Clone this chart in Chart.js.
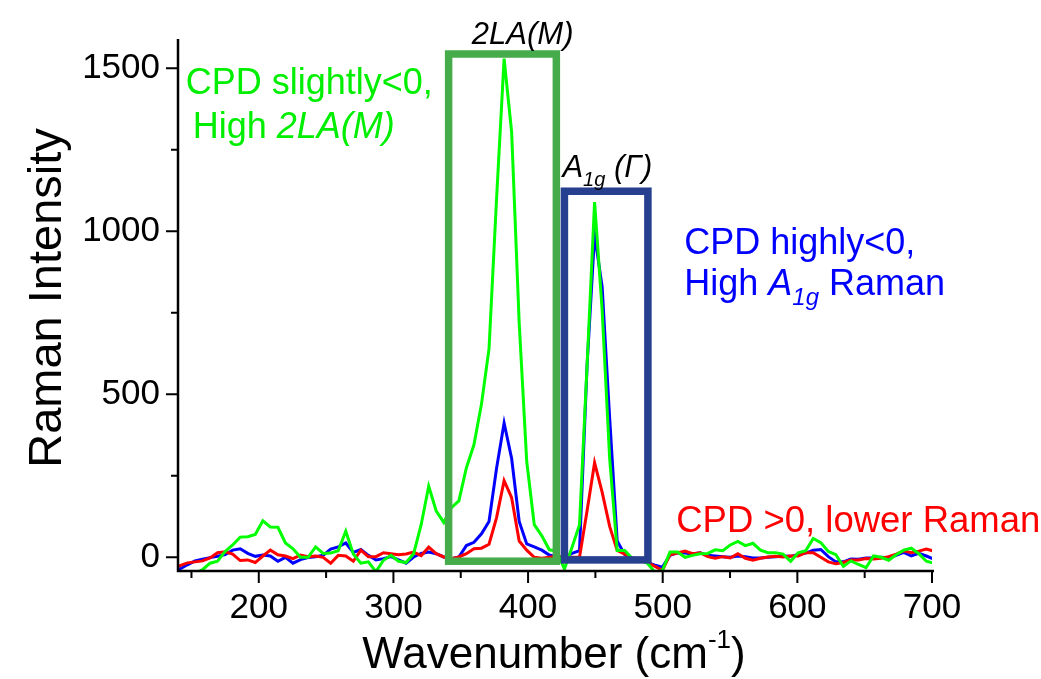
<!DOCTYPE html>
<html>
<head>
<meta charset="utf-8">
<script src="https://cdn.jsdelivr.net/npm/chart.js@4.4.1/dist/chart.umd.min.js"></script>
<style>
  html, body { margin: 0; padding: 0; background: #fff; }
</style>
</head>
<body>
<canvas id="raman" width="1041" height="679"></canvas>
<script>
// Raman shift (cm-1) sampled along the spectrum
const wavenumbers = [
  140, 147, 152.6, 158.2, 163.8, 169.4, 175, 180.6, 186.2, 191.8,
  197.4, 203, 208.6, 214.2, 219.8, 225.4, 231, 236.6, 242.2, 247.8,
  253.4, 259, 264.6, 270.2, 275.8, 281.4, 287, 292.6, 298.2, 303.8,
  309.4, 315, 320.6, 326.2, 331.8, 337.4, 343, 348.6, 354.2, 359.8,
  365.4, 371, 376.6, 382.2, 387.8, 393.4, 399, 404.6, 410.2, 415.8,
  421.4, 427, 432.6, 438.2, 443.8, 449.4, 455, 460.6, 466.2, 471.8,
  477.4, 483, 488.6, 494.2, 499.8, 505.4, 511, 516.6, 522.2, 527.8,
  533.4, 539, 544.6, 550.2, 555.8, 561.4, 567, 572.6, 578.2, 583.8,
  589.4, 595, 600.6, 606.2, 611.8, 617.4, 623, 628.6, 634.2, 639.8,
  645.4, 651, 656.6, 662.2, 667.8, 673.4, 679, 684.6, 690.2, 695.8,
  701.4
];

// CPD slightly < 0
const greenCounts = [
  -60, -57, -50, -38, -18, -12, 18, 38, 62, 63,
  70, 112, 93, 92, 44, 26, 0, 0, 32, 12,
  13, 20, 80, 10, -18, -14, -44, -9, 6, -12,
  -16, 11, 100, 218, 142, 107, 152, 173, 275, 345,
  470, 640, 1100, 1530, 1304, 720, 294, 100, 66, 23,
  19, -36, 30, 100, 587, 1090, 760, 303, 21, 21,
  -4, -10, -18, -45, -40, 16, 16, 0, 6, 11,
  12, 23, 20, 38, 49, 36, 43, 22, 14, 14,
  10, -12, 14, 20, 58, 45, 18, 8, -28, -11,
  -22, -32, 4, 0, -9, 8, 22, 28, 11, -12,
  -18
];

// CPD highly < 0
const blueCounts = [
  -39, -23, -11, -6, -1, 3, 8, 22, 26, 12,
  3, 7, 4, -12, 0, -18, -7, -1, 2, 6,
  25, 32, 44, 15, 24, 6, -8, -4, 2, -8,
  -18, 1, 12, 16, 11, 1, -4, 1, 36, 46,
  72, 110, 273, 412, 303, 110, 41, 32, 22, 7,
  1, 0, 12, 20, 586, 990, 830, 427, 50, 8,
  -4, -10, -16, -24, -30, 6, 14, 13, 10, 14,
  6, 4, 2, 0, 4, 2, -2, -2, 0, 2,
  4, 3, 9, 13, 22, 24, 2, -14, -14, -5,
  -6, -2, -2, 0, -1, 6, 15, 4, 12, 4,
  -6
];

// CPD > 0
const redCounts = [
  -28, -17, -14, -11, -2, 14, 17, 10, -10, -8,
  -16, 4, 22, 8, 4, -4, 7, 2, 4, 0,
  -18, 6, 4, -12, 22, 2, 2, 14, 11, 8,
  10, 16, 5, 31, 11, 1, -4, 1, 11, 26,
  28, 40, 122, 235, 183, 50, 22, 0, -3, 0,
  3, 0, 0, 0, 142, 290, 200, 95, 21, 10,
  -2, -5, -14, -28, -40, 8, 13, 19, 11, 14,
  2, -3, 2, -2, 11, -3, -9, -3, 1, 3,
  1, 4, 4, 14, 14, 0, -14, -20, -16, -8,
  -8, -4, -5, -3, 2, 10, 20, 14, 19, 25,
  19
];

const xMajorTicks = [200, 300, 400, 500, 600, 700];
const xMinorTicks = [150, 250, 350, 450, 550, 650];
const yMajorTicks = [0, 500, 1000, 1500];
const yMinorTicks = [250, 750, 1250];

// highlighted ranges: [from, to] in cm-1, [bottom, top] in counts
const twoLaRange = [341, 421];
const twoLaHeight = [-12, 1544];
const a1gRange = [427, 489];
const a1gHeight = [-8, 1123];

const SANS = '"Liberation Sans", Arial, sans-serif';
const toPoints = (ys) => wavenumbers.map((x, i) => ({ x: x, y: ys[i] }));

function drawRuns(ctx, x, y, runs, color) {
  ctx.fillStyle = color;
  ctx.textAlign = "left";
  ctx.textBaseline = "alphabetic";
  runs.forEach((r) => {
    ctx.font = r.font;
    ctx.fillText(r.text, x, y + (r.dy || 0));
    x += ctx.measureText(r.text).width;
  });
  return x;
}

const frame = {
  id: "frame",
  afterDatasetsDraw(chart) {
    const { ctx, chartArea: a } = chart;
    const xs = chart.scales.x;
    const ys = chart.scales.y;
    ctx.save();

    // boxes
    const box = (range, height, color) => {
      const l = xs.getPixelForValue(range[0]);
      const r = xs.getPixelForValue(range[1]);
      const t = ys.getPixelForValue(height[1]);
      const b = ys.getPixelForValue(height[0]);
      ctx.strokeStyle = color;
      ctx.lineWidth = 7.5;
      ctx.strokeRect(l, t, r - l, b - t);
    };
    box(twoLaRange, twoLaHeight, "#45ab4b");
    box(a1gRange, a1gHeight, "#263f8e");

    // axes
    ctx.strokeStyle = "#000";
    ctx.lineWidth = 2.5;
    ctx.beginPath();
    ctx.moveTo(a.left, a.top);
    ctx.lineTo(a.left, a.bottom);
    ctx.lineTo(a.right + 2, a.bottom);
    ctx.stroke();

    ctx.lineWidth = 2;
    ctx.beginPath();
    xMajorTicks.forEach((v) => {
      const p = xs.getPixelForValue(v);
      ctx.moveTo(p, a.bottom);
      ctx.lineTo(p, a.bottom + 12);
    });
    xMinorTicks.forEach((v) => {
      const p = xs.getPixelForValue(v);
      ctx.moveTo(p, a.bottom);
      ctx.lineTo(p, a.bottom + 7);
    });
    yMajorTicks.forEach((v) => {
      const p = ys.getPixelForValue(v);
      ctx.moveTo(a.left, p);
      ctx.lineTo(a.left - 12, p);
    });
    yMinorTicks.forEach((v) => {
      const p = ys.getPixelForValue(v);
      ctx.moveTo(a.left, p);
      ctx.lineTo(a.left - 7, p);
    });
    ctx.stroke();

    // axis titles
    ctx.fillStyle = "#000";
    ctx.save();
    ctx.translate(61, 298);
    ctx.rotate(-Math.PI / 2);
    ctx.font = "47px " + SANS;
    ctx.textAlign = "center";
    ctx.textBaseline = "alphabetic";
    ctx.fillText("Raman Intensity", 0, 0);
    ctx.restore();

    const titleRuns = [
      { text: "Wavenumber (cm", font: "44px " + SANS },
      { text: "-1", font: "26px " + SANS, dy: -20 },
      { text: ")", font: "44px " + SANS },
    ];
    let w = 0;
    titleRuns.forEach((r) => { ctx.font = r.font; w += ctx.measureText(r.text).width; });
    drawRuns(ctx, 554 - w / 2, 668, titleRuns, "#000");

    // annotations
    const px = (v) => xs.getPixelForValue(v);
    const py = (v) => ys.getPixelForValue(v);
    const big = "36px " + SANS;
    const bigIt = "italic 36px " + SANS;

    ctx.font = "italic 31px " + SANS;
    const lw = ctx.measureText("2LA(M)").width;
    drawRuns(ctx, px(396) - lw / 2, py(1575), [{ text: "2LA(M)", font: "italic 31px " + SANS }], "#000");
    drawRuns(ctx, px(425.5), py(1167), [
      { text: "A", font: "italic 31px " + SANS },
      { text: "1g", font: "italic 20px " + SANS, dy: 9 },
      { text: " (\u0393)", font: "italic 31px " + SANS },
    ], "#000");

    drawRuns(ctx, px(145.7), py(1421), [{ text: "CPD slightly<0,", font: big }], "#00ee00");
    drawRuns(ctx, px(150.9), py(1285), [
      { text: "High ", font: big },
      { text: "2LA(M)", font: bigIt },
    ], "#00ee00");

    drawRuns(ctx, px(516), py(930), [{ text: "CPD highly<0,", font: big }], "#0000ff");
    drawRuns(ctx, px(516), py(806), [
      { text: "High ", font: big },
      { text: "A", font: bigIt },
      { text: "1g", font: "italic 24px " + SANS, dy: 10 },
      { text: " Raman", font: big },
    ], "#0000ff");

    drawRuns(ctx, px(510), py(79), [{ text: "CPD >0, lower Raman", font: "36.5px " + SANS }], "#ff0000");

    ctx.restore();
  },
};

const lineStyle = { borderWidth: 3, pointRadius: 0, tension: 0, fill: false, clip: 0 };

new Chart(document.getElementById("raman"), {
  type: "line",
  data: {
    datasets: [
      { label: "CPD slightly<0", data: toPoints(greenCounts), borderColor: "#00ff00", ...lineStyle },
      { label: "CPD >0", data: toPoints(redCounts), borderColor: "#ff0000", ...lineStyle },
      { label: "CPD highly<0", data: toPoints(blueCounts), borderColor: "#0000ff", ...lineStyle },
    ],
  },
  options: {
    responsive: false,
    animation: false,
    events: [],
    layout: { padding: { top: 32, right: 109, left: 0, bottom: 0 } },
    plugins: { legend: { display: false }, tooltip: { enabled: false } },
    scales: {
      x: {
        type: "linear",
        min: 140,
        max: 700,
        border: { display: false },
        grid: { display: false, drawTicks: false },
        afterBuildTicks: (axis) => { axis.ticks = xMajorTicks.map((v) => ({ value: v })); },
        afterFit: (axis) => { axis.height = 108; },
        ticks: {
          padding: 16,
          color: "#000",
          maxRotation: 0,
          autoSkip: false,
          font: { size: 35, family: SANS },
          callback: (v) => String(v),
        },
      },
      y: {
        type: "linear",
        min: -42,
        max: 1590,
        border: { display: false },
        grid: { display: false, drawTicks: false },
        afterBuildTicks: (axis) => { axis.ticks = yMajorTicks.map((v) => ({ value: v })); },
        afterFit: (axis) => { axis.width = 178; },
        ticks: {
          padding: 18,
          color: "#000",
          font: { size: 35, family: SANS },
          callback: (v) => String(v),
        },
      },
    },
  },
  plugins: [frame],
});
</script>
</body>
</html>
